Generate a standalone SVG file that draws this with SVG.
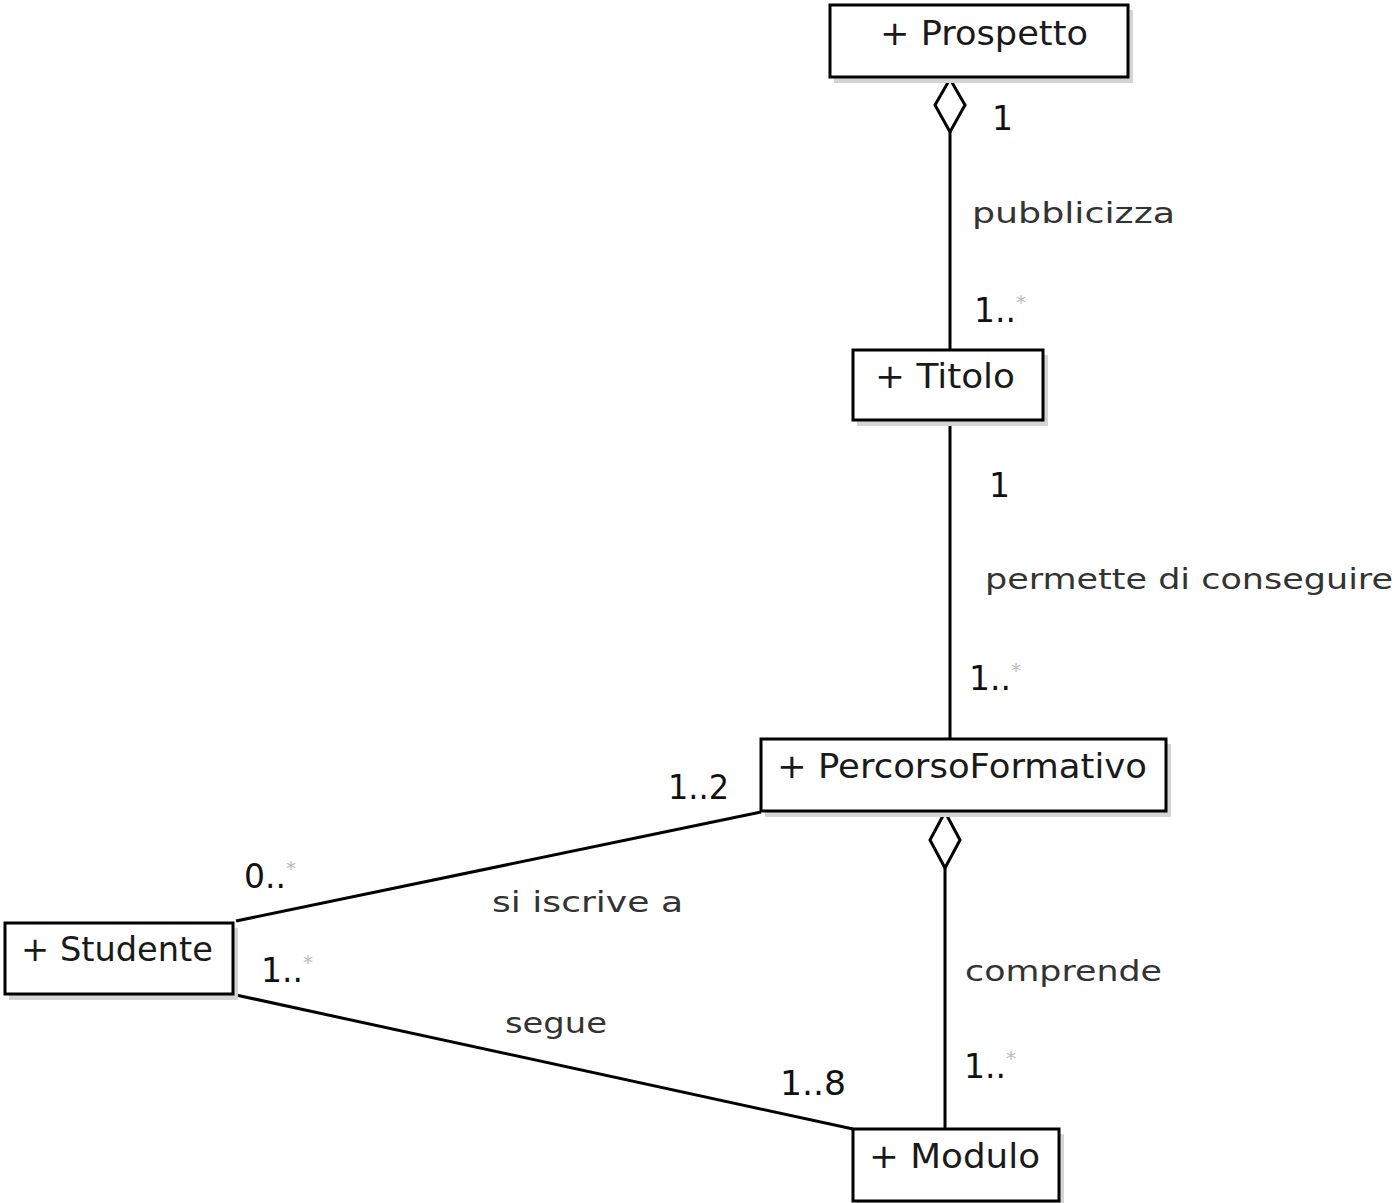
<svg xmlns="http://www.w3.org/2000/svg" width="1399" height="1203" viewBox="0 0 1399 1203">
<style>
.shadow{fill:#d4d4d4;stroke:none}
.box{fill:#fff;stroke:#000;stroke-width:3}
.name{font-family:"DejaVu Sans",sans-serif;font-size:33px;fill:#1a1a1a}
.lbl{font-family:"DejaVu Sans",sans-serif;font-size:29px;fill:#333}
.mul{font-family:"DejaVu Sans",sans-serif;font-size:33px;fill:#111}
.star{font-size:20px;fill:#bbb}
.edge{fill:none;stroke:#000;stroke-width:3}
.dia{fill:#fff;stroke:#000;stroke-width:3}
</style>
<rect width="1399" height="1203" fill="#fff"/>
<g id="connectors">
<path class="edge" d="M950 132 V350"/>
<polygon class="dia" points="950,79 965,105 950,132 935,105"/>
<path class="edge" d="M950 420 V739"/>
<path class="edge" d="M945 868 V1129"/>
<polygon class="dia" points="945,812 960,840 945,868 930,840"/>
<path class="edge" d="M236 921 L761 812"/>
<path class="edge" d="M236 995 L853 1129"/>
<text class="mul" x="992" y="130">1</text>
<text class="lbl" x="972" y="223" textLength="203" lengthAdjust="spacingAndGlyphs">pubblicizza</text>
<text class="mul" x="974" y="322">1..<tspan class="star" dy="-13">*</tspan></text>
<text class="mul" x="989" y="497">1</text>
<text class="lbl" x="985" y="589" textLength="408" lengthAdjust="spacingAndGlyphs">permette di conseguire</text>
<text class="mul" x="969" y="690">1..<tspan class="star" dy="-13">*</tspan></text>
<text class="mul" x="668" y="799" textLength="61" lengthAdjust="spacingAndGlyphs">1..2</text>
<text class="mul" x="244" y="888">0..<tspan class="star" dy="-13">*</tspan></text>
<text class="lbl" x="492" y="912" textLength="191" lengthAdjust="spacingAndGlyphs">si iscrive a</text>
<text class="mul" x="261" y="982">1..<tspan class="star" dy="-13">*</tspan></text>
<text class="lbl" x="505" y="1033" textLength="102" lengthAdjust="spacingAndGlyphs">segue</text>
<text class="mul" x="780" y="1095" textLength="66" lengthAdjust="spacingAndGlyphs">1..8</text>
<text class="lbl" x="965" y="981" textLength="197" lengthAdjust="spacingAndGlyphs">comprende</text>
<text class="mul" x="964" y="1078">1..<tspan class="star" dy="-13">*</tspan></text>
</g>
<g id="Prospetto">
<rect class="shadow" x="834" y="10" width="299" height="73"/>
<rect class="box" x="830" y="5" width="298" height="72"/>
<text class="name" x="880" y="45" textLength="208" lengthAdjust="spacingAndGlyphs">+ Prospetto</text>
</g>
<g id="Titolo">
<rect class="shadow" x="857" y="355" width="191" height="71"/>
<rect class="box" x="853" y="350" width="190" height="70"/>
<text class="name" x="875" y="388" textLength="140" lengthAdjust="spacingAndGlyphs">+ Titolo</text>
</g>
<g id="PercorsoFormativo">
<rect class="shadow" x="765" y="744" width="406" height="73"/>
<rect class="box" x="761" y="739" width="405" height="72"/>
<text class="name" x="777" y="778" textLength="370" lengthAdjust="spacingAndGlyphs">+ PercorsoFormativo</text>
</g>
<g id="Studente">
<rect class="shadow" x="9" y="928" width="229" height="72"/>
<rect class="box" x="5" y="923" width="228" height="71"/>
<text class="name" x="21" y="961" textLength="192" lengthAdjust="spacingAndGlyphs">+ Studente</text>
</g>
<g id="Modulo">
<rect class="shadow" x="857" y="1134" width="207" height="72"/>
<rect class="box" x="853" y="1129" width="206" height="72"/>
<text class="name" x="869" y="1168" textLength="171" lengthAdjust="spacingAndGlyphs">+ Modulo</text>
</g>
</svg>
